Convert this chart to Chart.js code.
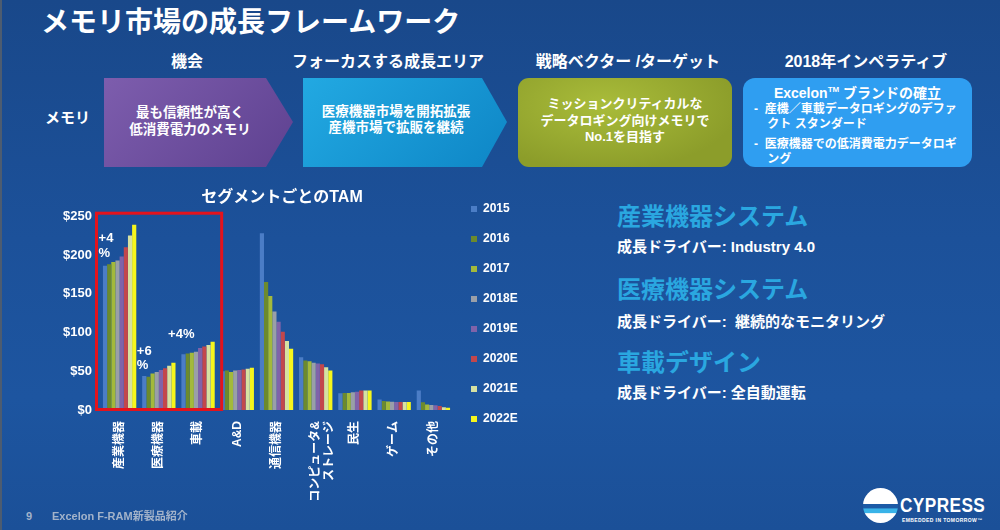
<!DOCTYPE html>
<html lang="ja">
<head>
<meta charset="utf-8">
<script src="https://cdn.jsdelivr.net/npm/chart.js@4.4.0/dist/chart.umd.min.js"></script>
<style>
  html, body { margin: 0; padding: 0; }
  body {
    width: 1000px; height: 530px; overflow: hidden; position: relative;
    background: linear-gradient(180deg, #19488a 0%, #1c519a 45%, #1d55a0 75%, #1b5098 100%);
    font-family: 'Liberation Sans', 'Noto Sans CJK JP', sans-serif;
    font-weight: bold; color: #fff;
  }
  .edge { position: absolute; left: 0; top: 0; width: 2px; height: 530px; background: #4d5c70; }
  .t { position: absolute; white-space: nowrap; }
  .c { text-align: center; }
  .shape { position: absolute; top: 78px; height: 89px; }
  .head { font-size: 16px; line-height: 20px; top: 52px; width: 240px; }
  .drv { font-size: 15px; line-height: 18px; left: 617px; }
  .seg { font-size: 24px; line-height: 28px; left: 617px; color: #2aa7e0; }
  #wrap { position: absolute; left: 45px; top: 185px; width: 474px; height: 325px; }
</style>
</head>
<body>
<div class="edge"></div>

<div class="t" style="left:41px;top:6px;font-size:28px;line-height:34px;">メモリ市場の成長フレームワーク</div>

<div class="t c head" style="left:67px;">機会</div>
<div class="t c head" style="left:268px;">フォーカスする成長エリア</div>
<div class="t c head" style="left:508px;">戦略ベクター /ターゲット</div>
<div class="t c head" style="left:746px;">2018年インペラティブ</div>

<div class="t" style="left:45px;top:109px;font-size:15px;line-height:18px;">メモリ</div>

<div class="shape" style="left:104px;width:189px;background:linear-gradient(135deg,#7d5dad,#5e4190);
  clip-path:polygon(0 0,162px 0,189px 44px,162px 89px,0 89px);"></div>
<div class="t c" style="left:104px;top:104px;width:172px;font-size:13.5px;line-height:17px;">最も信頼性が高く<br>低消費電力のメモリ</div>

<div class="shape" style="left:303px;width:204px;background:linear-gradient(135deg,#22a9e2,#0e86c6);
  clip-path:polygon(0 0,179px 0,204px 44px,179px 89px,0 89px);"></div>
<div class="t c" style="left:303px;top:104px;width:186px;font-size:13.5px;line-height:16px;">医療機器市場を開拓拡張<br>産機市場で拡販を継続</div>

<div class="shape" style="left:518px;width:214px;border-radius:11px;background:radial-gradient(ellipse at 40% 30%,#a9bc3a,#8c9d2a 75%);"></div>
<div class="t c" style="left:518px;top:96px;width:214px;font-size:13px;line-height:16.5px;">ミッションクリティカルな<br>データロギング向けメモリで<br>No.1を目指す</div>

<div class="shape" style="left:743px;width:229px;border-radius:12px;background:#2f9ef1;"></div>
<div class="t c" style="left:743px;top:81px;width:229px;font-size:14px;line-height:18px;">Excelon<sup style="font-size:8px">TM</sup> ブランドの確立</div>
<div class="t" style="left:754px;top:102px;font-size:12px;line-height:14.5px;">-&nbsp;&nbsp;産機／車載データロギングのデファ<br>&nbsp;&nbsp;&nbsp;&nbsp;クト スタンダード</div>
<div class="t" style="left:754px;top:137px;font-size:12px;line-height:14.5px;">-&nbsp;&nbsp;医療機器での低消費電力データロギ<br>&nbsp;&nbsp;&nbsp;&nbsp;ング</div>

<div id="wrap"><canvas id="tam" width="474" height="325"></canvas></div>

<div class="t seg" style="top:203px;">産業機器システム</div>
<div class="t drv" style="top:238px;">成長ドライバー: Industry 4.0</div>
<div class="t seg" style="top:276px;">医療機器システム</div>
<div class="t drv" style="top:313px;">成長ドライバー:&nbsp; 継続的なモニタリング</div>
<div class="t seg" style="top:349px;">車載デザイン</div>
<div class="t drv" style="top:384px;">成長ドライバー: 全自動運転</div>

<div class="t" style="left:26px;top:509px;font-size:11px;line-height:14px;color:#a3b3ca;">9</div>
<div class="t" style="left:52px;top:509px;font-size:11px;line-height:14px;color:#a3b3ca;">Excelon F-RAM新製品紹介</div>

<div style="position:absolute;left:863px;top:488px;width:35px;height:35px;border-radius:50%;
  background:linear-gradient(180deg,#fff 0%,#fff 45%,#1c5aa6 46%,#1c5aa6 58%,#39b3e8 59%,#39b3e8 72%,#fff 73%,#fff 100%);"></div>
<div class="t" style="left:900px;top:494px;font-size:21px;line-height:22px;transform:scaleX(0.82);transform-origin:left top;letter-spacing:0.5px;">CYPRESS</div>
<div class="t" style="left:902px;top:517px;font-size:5px;line-height:6px;letter-spacing:0.4px;">EMBEDDED IN TOMORROW™</div>

<script>
const categories = ['産業機器', '医療機器', '車載', 'A&D', '通信機器', ['コンピュータ&', 'ストレージ'], '民生', 'ゲーム', 'その他'];
const years = ['2015', '2016', '2017', '2018E', '2019E', '2020E', '2021E', '2022E'];

// TAM ($) per segment, one array per year
const v2015  = [186, 44,   72, 50,   228, 68, 21.5, 13.7, 25];
const v2016  = [188, 43,   73, 51,   165, 64, 22,   11.6, 10];
const v2017  = [191, 47,   74, 49,   147, 63, 22,   11,   7];
const v2018E = [193, 49,   75, 51,   127, 61, 23,   10.7, 6.4];
const v2019E = [198, 51.5, 80, 51.5, 114, 60, 23.6, 10.3, 6];
const v2020E = [210, 54,   82, 52.4, 101, 59, 25,   10.3, 5];
const v2021E = [225, 57,   84, 53.3, 89,  55, 25.3, 10.3, 3.4];
const v2022E = [239, 61,   88, 54.5, 79,  51, 25.3, 10.3, 3];

const yTicks = [0, 50, 100, 150, 200, 250];
const yTickLabels = ['$0', '$50', '$100', '$150', '$200', '$250'];

// 成長率の注記 (first line sits at this $ value)
const growthLabels = [['+4', '%'], ['+6', '%'], ['+4%']];
const growthValues = [221, 76, 98];
const highlightCount = 3;

const series = [v2015, v2016, v2017, v2018E, v2019E, v2020E, v2021E, v2022E];
const barColors = ['#4b7dc6', '#6c8a2d', '#a3b93b', '#9a9fa8', '#8063a9', '#c2474c', '#d6e1a2', '#f6f61c'];
const F = "'Liberation Sans', 'Noto Sans CJK JP', sans-serif";

const framePlugin = {
  id: 'frame',
  afterDatasetsDraw(chart) {
    const { ctx, chartArea, scales: { x, y } } = chart;
    const cw = x.getPixelForTick(1) - x.getPixelForTick(0);
    ctx.save();
    ctx.strokeStyle = '#e4131c';
    ctx.lineWidth = 3;
    const left = chartArea.left - 3.5;
    const right = x.getPixelForTick(highlightCount - 1) + cw / 2 + 4;
    const top = y.getPixelForValue(yTicks[yTicks.length - 1]) - 3;
    const bottom = y.getPixelForValue(0) - 0.5;
    ctx.strokeRect(left, top, right - left, bottom - top);

    ctx.fillStyle = '#fff';
    ctx.font = 'bold 13px ' + F;
    ctx.textBaseline = 'middle';
    const shift = [-21, -22, -30];
    growthLabels.forEach((lines, i) => {
      const gx = x.getPixelForTick(i) + shift[i];
      const gy = y.getPixelForValue(growthValues[i]);
      lines.forEach((t, j) => ctx.fillText(t, gx, gy + j * 14.5));
    });
    ctx.restore();
  }
};

new Chart(document.getElementById('tam'), {
  type: 'bar',
  data: {
    labels: categories,
    datasets: years.map((yr, i) => ({
      label: yr,
      data: series[i],
      backgroundColor: barColors[i],
      borderWidth: 0,
      categoryPercentage: 0.85,
      barPercentage: 1
    }))
  },
  options: {
    responsive: false,
    animation: false,
    layout: { padding: 0 },
    plugins: {
      title: {
        display: true,
        text: 'セグメントごとのTAM',
        color: '#fff',
        font: { size: 16, weight: 'bold', family: F },
        padding: { top: 3, bottom: 9 }
      },
      legend: {
        position: 'right',
        align: 'start',
        maxWidth: 66,
        labels: {
          color: '#fff',
          boxWidth: 6,
          boxHeight: 6,
          padding: 18,
          font: { size: 12, weight: 'bold', family: F }
        }
      },
      tooltip: { enabled: false }
    },
    scales: {
      x: {
        grid: { display: false, drawTicks: false },
        border: { display: false },
        ticks: {
          color: '#fff',
          font: { size: 12, weight: 'bold', family: F },
          minRotation: 90,
          maxRotation: 90,
          autoSkip: false,
          padding: 11
        },
        afterFit(s) { s.height = 100; }
      },
      y: {
        min: 0,
        max: 250,
        grid: { display: false, drawTicks: false },
        border: { display: false },
        ticks: {
          stepSize: 50,
          color: '#fff',
          padding: 8,
          font: { size: 13, weight: 'bold', family: F },
          callback: v => yTickLabels[yTicks.indexOf(v)]
        },
        afterFit(s) { s.width = 55; }
      }
    }
  },
  plugins: [framePlugin]
});
</script>
</body>
</html>
